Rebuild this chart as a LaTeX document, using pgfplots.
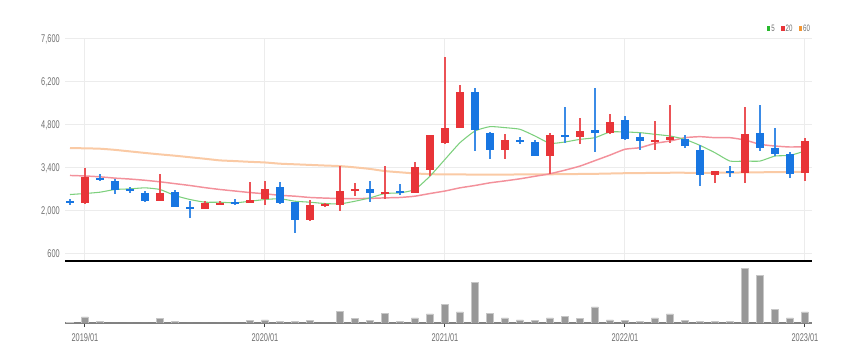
\documentclass[border=0pt]{standalone}
\usepackage{fontspec}
\setmainfont[FakeStretch=0.66]{Liberation Sans}
\usepackage{pgfplots}
\pgfplotsset{compat=1.18}
\usepackage{pgfplotstable}

\definecolor{upc}{RGB}{232,52,56}
\definecolor{dnc}{RGB}{24,118,226}
\definecolor{ma5}{RGB}{125,208,125}
\definecolor{ma20}{RGB}{243,145,155}
\definecolor{ma60}{RGB}{250,202,165}
\definecolor{lbl}{RGB}{112,112,112}
\definecolor{gridc}{RGB}{236,236,236}
\definecolor{volc}{RGB}{152,152,152}
\definecolor{lg5}{RGB}{40,185,45}
\definecolor{lg20}{RGB}{232,52,56}
\definecolor{lg60}{RGB}{243,150,50}

% up candles (red)
\pgfplotstableread{
x o h l c
1 2264 3400 2240 3113
6 2340 3210 2320 2600
9 2070 2320 2050 2250
10 2210 2310 2190 2270
12 2275 2960 2250 2370
13 2400 2970 2210 2720
16 1700 2370 1665 2180
17 2160 2275 2130 2220
18 2210 3460 2000 2645
19 2680 2920 2480 2710
21 2570 3460 2400 2630
23 2590 3600 2580 3440
24 3350 4470 3130 4460
25 4200 7000 4170 4710
26 4710 6100 4700 5860
29 3970 4500 3700 4310
32 3800 4550 3210 4460
34 4410 5040 4190 4590
36 4550 5170 4500 4910
39 4235 4930 4000 4310
40 4320 5440 4220 4400
43 3160 3300 2900 3300
45 3245 5400 2900 4520
49 3245 4370 2990 4290
}\upt

% down candles (blue)
\pgfplotstableread{
x o h l c
0 2330 2400 2200 2260
2 3090 3220 2980 3015
3 2980 3030 2550 2680
4 2720 2790 2570 2640
5 2600 2650 2300 2320
7 2630 2670 2130 2130
8 2110 2340 1780 2090
11 2300 2400 2200 2230
14 2790 2950 2240 2260
15 2290 2300 1290 1720
20 2710 2970 2290 2570
22 2640 2870 2530 2590
27 5880 6020 3950 4640
28 4530 4570 3700 3970
30 4320 4420 4190 4270
31 4250 4310 3780 3800
33 4490 5400 4220 4420
35 4630 6020 3930 4550
37 4950 5100 4300 4330
38 4420 4550 3970 4280
41 4330 4480 4050 4100
42 3980 4140 2810 3180
44 3290 3460 3110 3245
46 4540 5440 3940 4050
47 4050 4710 3790 3840
48 3840 3930 3060 3200
}\dnt

% moving averages
\pgfplotstableread{
x m5 m20 m60
0 2536 3157 4050
1 2569 3140 4040
2 2612 3113 4028
3 2700 3070 3990
4 2720 3040 3940
5 2754 3000 3890
6 2700 2950 3843
7 2503 2890 3800
8 2373 2830 3750
9 2286 2760 3700
10 2286 2700 3647
11 2264 2650 3625
12 2318 2600 3600
13 2373 2560 3580
14 2400 2510 3540
15 2318 2482 3520
16 2286 2440 3500
17 2242 2420 3480
18 2231 2405 3462
19 2318 2405 3420
20 2427 2410 3370
21 2569 2427 3299
22 2590 2440 3260
23 2700 2482 3222
24 3135 2569 3200
25 3680 2650 3190
26 4224 2754 3190
27 4605 2830 3185
28 4747 2917 3185
29 4714 2980 3185
30 4660 3048 3190
31 4442 3130 3190
32 4202 3212 3195
33 4246 3330 3200
34 4333 3462 3205
35 4387 3640 3210
36 4573 3820 3220
37 4573 4010 3230
38 4551 4061 3235
39 4496 4202 3240
40 4442 4278 3245
41 4333 4387 3245
42 4137 4420 3245
43 3897 4387 3245
44 3625 4387 3250
45 3625 4311 3255
46 3625 4170 3260
47 3789 4115 3265
48 3810 4083 3270
49 3952 4093 3275
}\mat

% volume
\pgfplotstableread{
x v
0 2
1 18
2 4
3 0
4 0
5 0
6 13
7 4
8 0
9 0
10 0
11 0
12 7
13 9
14 4
15 4
16 7
17 0
18 34
19 14
20 7
21 29
22 4
23 15
24 27
25 55
26 33
27 122
28 28
29 15
30 9
31 7
32 15
33 19
34 14
35 48
36 9
37 8
38 4
39 15
40 27
41 8
42 4
43 4
44 4
45 163
46 142
47 40
48 15
49 33
}\volt

\begin{document}
\begin{tikzpicture}
\useasboundingbox (0,0) rectangle (641.25pt,272.25pt);

\begin{axis}[
  at={(48.75pt,243pt)}, anchor=north west,
  scale only axis, width=560.25pt, height=166.5pt,
  xmin=-0.333, xmax=49.47, ymin=372, ymax=7600,
  enlargelimits=false,
  xtick={1,13,25,37,49}, xticklabels={},
  ytick={600,2000,3400,4800,6200,7600},
  grid=major, major grid style={gridc, line width=0.75pt},
  axis x line*=bottom, axis y line*=left,
  y axis line style={draw=none},
  x axis line style={black, line width=1.5pt, -},
  major tick length=0pt,
  yticklabel style={font=\fontsize{8.4}{9}\selectfont, text=lbl, inner sep=0pt, xshift=-3.75pt},
  /pgf/number format/assume math mode=true,
  /pgf/number format/1000 sep={,},
]
% moving averages
\addplot[ma60, line width=1.5pt, mark=none, smooth, tension=0.3] table[x=x, y=m60] {\mat};
\addplot[ma20, line width=1.1pt, mark=none, smooth, tension=0.3] table[x=x, y=m20] {\mat};
\addplot[ma5, line width=0.8pt, mark=none, smooth, tension=0.3] table[x=x, y=m5] {\mat};
% wicks
\addplot[draw=none, mark=none, error bars/.cd, y dir=both, y explicit, error mark=none,
  error bar style={draw=upc!85, line width=0.8pt}]
  table[x=x, y expr={(\thisrow{h}+\thisrow{l})/2}, y error expr={(\thisrow{h}-\thisrow{l})/2}] {\upt};
\addplot[draw=none, mark=none, error bars/.cd, y dir=both, y explicit, error mark=none,
  error bar style={draw=dnc!85, line width=0.8pt}]
  table[x=x, y expr={(\thisrow{h}+\thisrow{l})/2}, y error expr={(\thisrow{h}-\thisrow{l})/2}] {\dnt};
% bodies
\addplot[draw=none, mark=none, error bars/.cd, y dir=both, y explicit, error mark=none,
  error bar style={draw=upc, line width=5.5pt}]
  table[x=x, y expr={(\thisrow{o}+\thisrow{c})/2}, y error expr={max(abs(\thisrow{c}-\thisrow{o})/2,30)}] {\upt};
\addplot[draw=none, mark=none, error bars/.cd, y dir=both, y explicit, error mark=none,
  error bar style={draw=dnc, line width=5.5pt}]
  table[x=x, y expr={(\thisrow{o}+\thisrow{c})/2}, y error expr={max(abs(\thisrow{c}-\thisrow{o})/2,30)}] {\dnt};
\end{axis}

\begin{axis}[
  at={(48.75pt,73.5pt)}, anchor=north west,
  scale only axis, width=560.25pt, height=43.5pt,
  xmin=-0.333, xmax=49.47, ymin=0, ymax=174,
  enlargelimits=false,
  axis x line*=bottom, axis y line=none,
  x axis line style={volc!85!black, line width=1.5pt, -},
  xtick={1,13,25,37,49},
  xticklabels={2019/01,2020/01,2021/01,2022/01,2023/01},
  ytick=\empty,
  tick align=outside, major tick length=3pt,
  x tick style={black!75, line width=0.75pt},
  xticklabel style={font=\fontsize{8.4}{9}\selectfont, text=lbl, yshift=-1pt},
  ybar, bar width=5.25pt,
]
\addplot[fill=volc, draw=black!22, line width=0.5pt] table[x=x, y=v] {\volt};
\end{axis}

% legend
\fill[lg5] (575.3pt,248.9pt) rectangle ++(2.4pt,4.2pt);
\node[anchor=west, inner sep=0pt, text=lbl, font=\fontsize{7}{7}\selectfont] at (578.4pt,251pt) {5};
\fill[lg20] (586pt,248.9pt) rectangle ++(2.4pt,4.2pt);
\node[anchor=west, inner sep=0pt, text=lbl, font=\fontsize{7}{7}\selectfont] at (589.1pt,251pt) {20};
\fill[lg60] (599pt,248.9pt) rectangle ++(2.4pt,4.2pt);
\node[anchor=west, inner sep=0pt, text=lbl, font=\fontsize{7}{7}\selectfont] at (602.1pt,251pt) {60};
\end{tikzpicture}
\end{document}
